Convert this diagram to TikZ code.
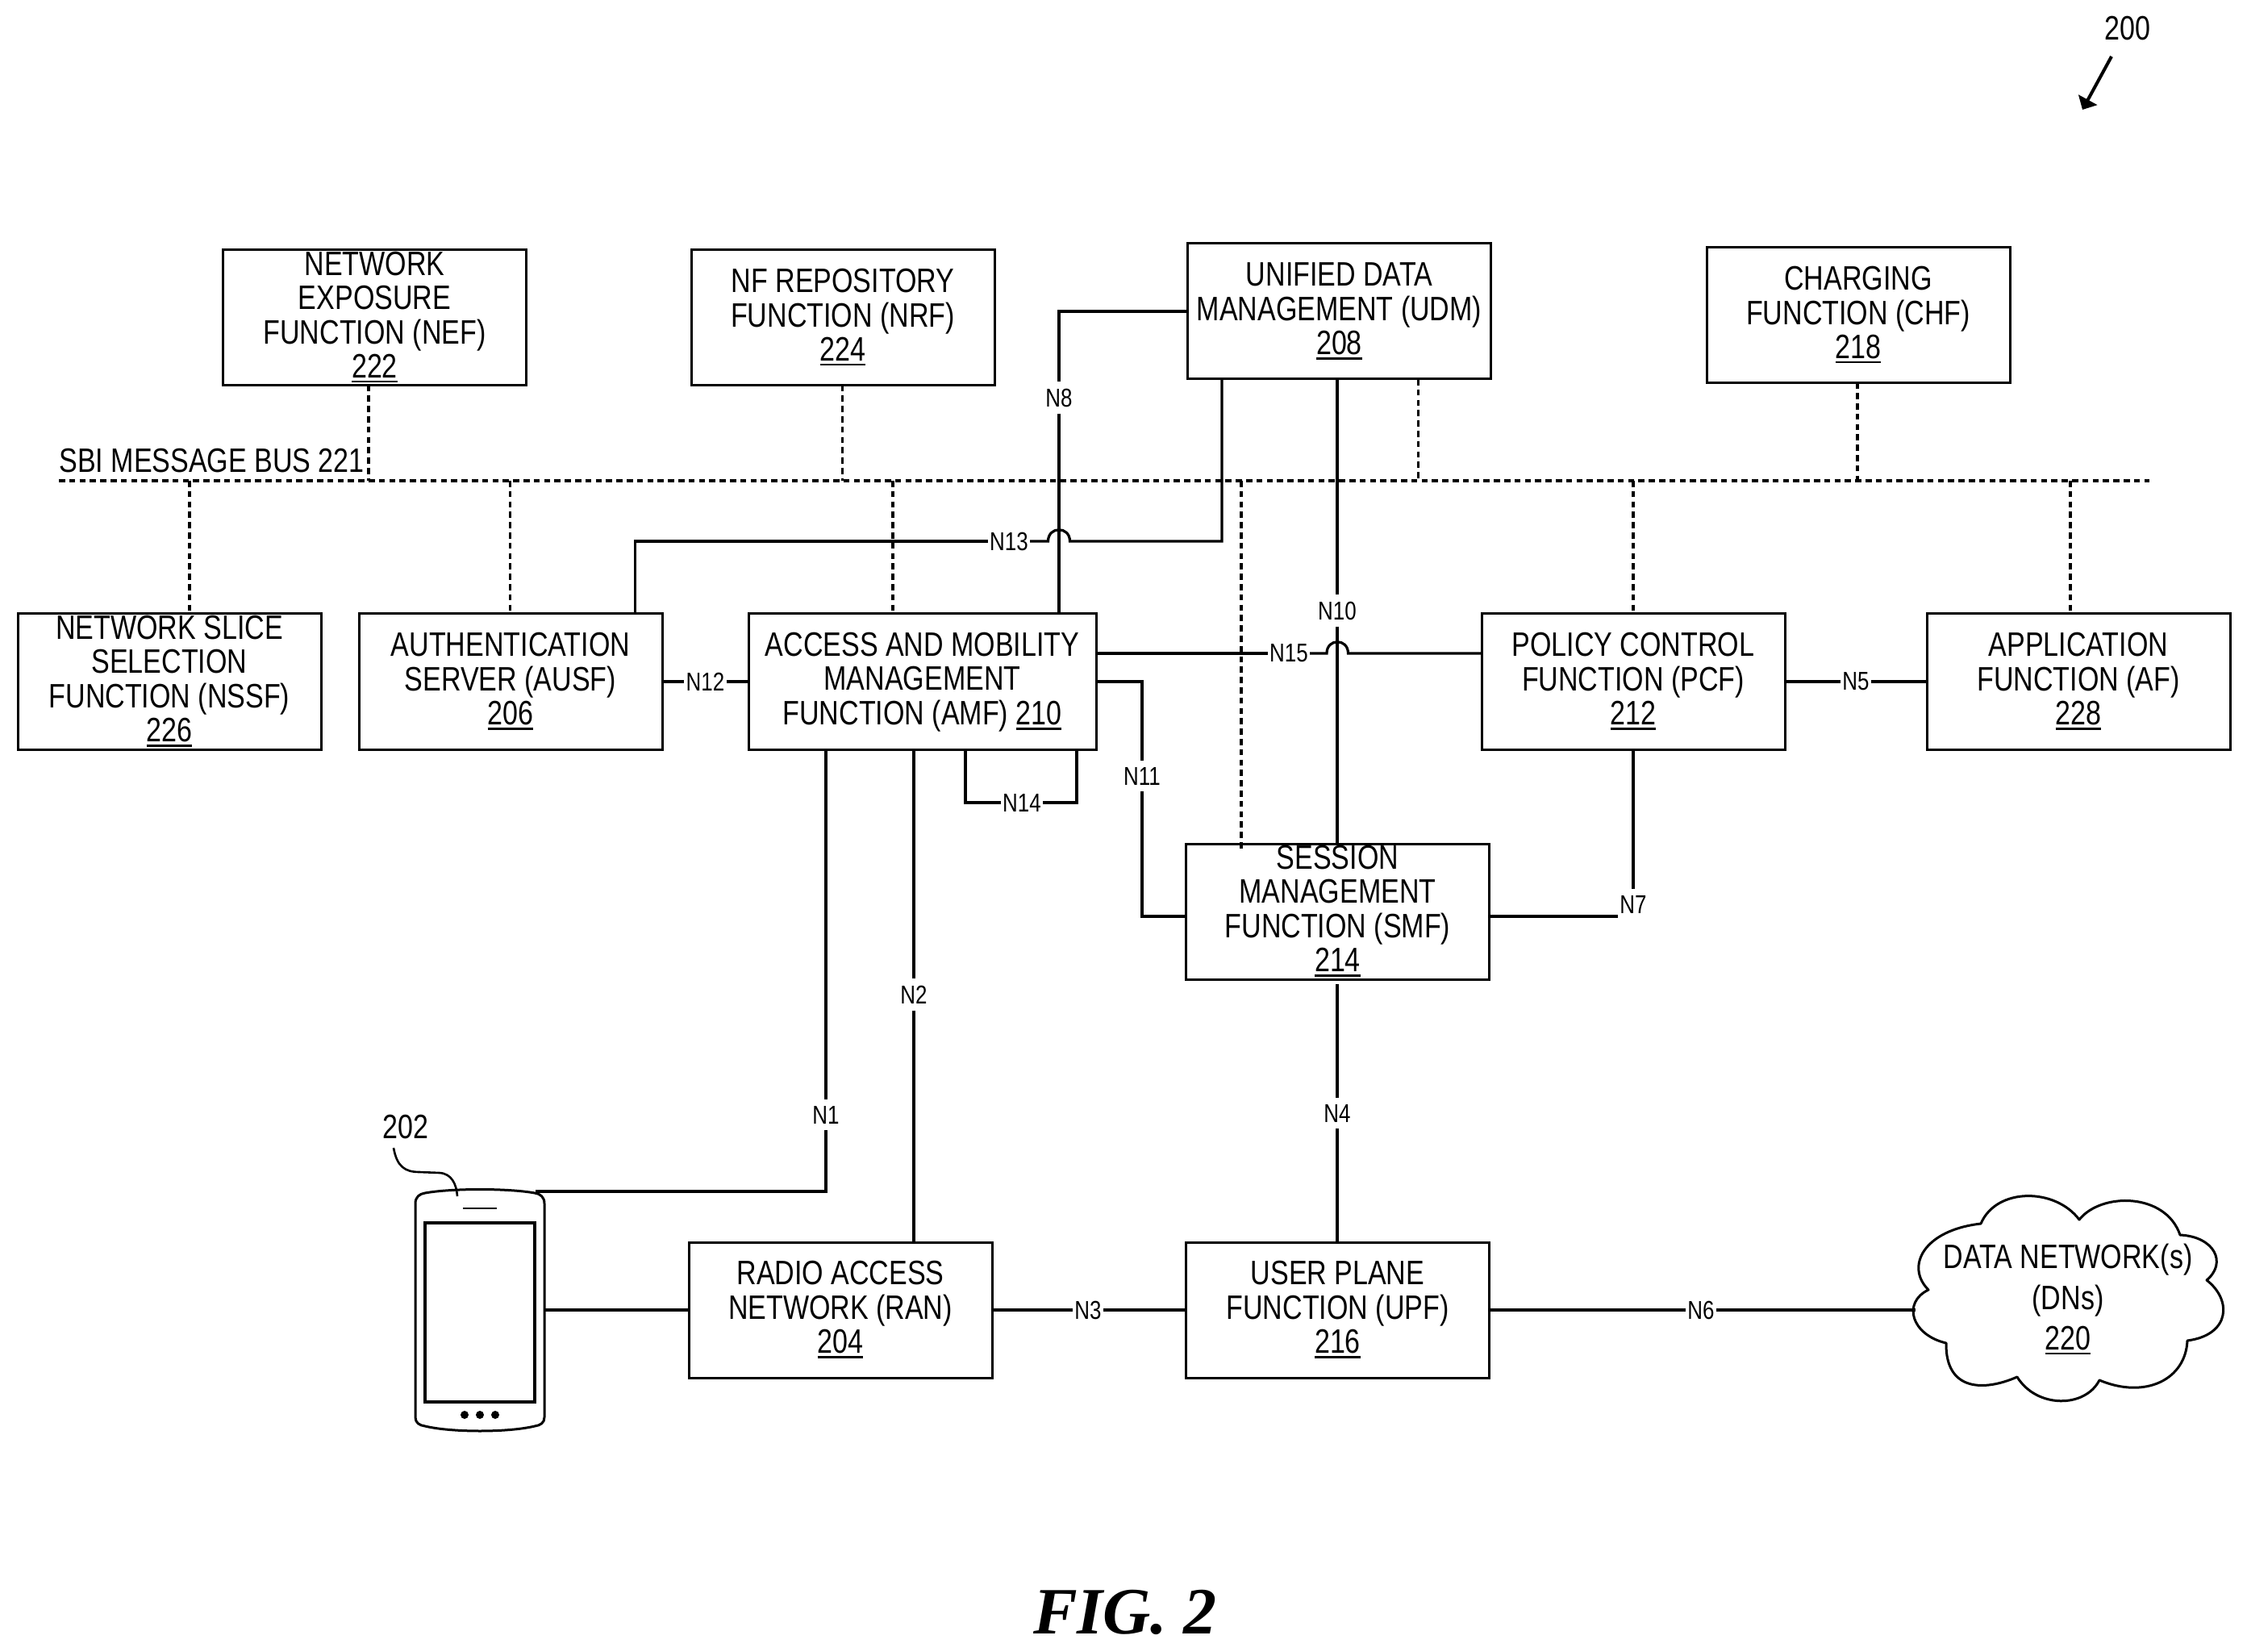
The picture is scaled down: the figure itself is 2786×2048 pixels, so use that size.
\documentclass[tikz,border=0pt]{standalone}
\usepackage{fontspec}
\setmainfont{Liberation Sans}[FakeStretch=0.81]
\newfontfamily\figfont{Liberation Serif}
\usetikzlibrary{arrows.meta}
\newcommand{\ulnum}[1]{\setbox0\hbox{#1}\rlap{\rule[-3pt]{\wd0}{1.1pt}}\box0}
\newcommand{\boxlines}[1]{\raisebox{-6.5pt}[0pt][0pt]{\makebox[0pt]{\begin{tabular}{@{}c@{}}#1\end{tabular}}}}
\tikzset{
  netbox/.style={draw,line width=1.5pt,minimum width=188pt,minimum height=84pt,inner sep=0pt,outer sep=0pt,
    font=\fontsize{21}{21}\selectfont},
  conn/.style={line width=1.6pt},
  sbi/.style={line width=1.6pt,dash pattern=on 3.8pt off 2.6pt},
  ifc/.style={fill=white,inner xsep=1pt,inner ysep=4pt,font=\fontsize{16}{17}\selectfont},
  plain/.style={inner sep=0pt,font=\fontsize{21}{21}\selectfont},
  outline/.style={line width=1.5pt,line join=round}
}
\begin{document}
\begin{tikzpicture}[x=0.5pt,y=-0.5pt]
\useasboundingbox (0,0) rectangle (2786,2048);

% boxes
\node[netbox] (nef) at (464.5,393.6) {\boxlines{NETWORK\\EXPOSURE\\FUNCTION (NEF)\\\ulnum{222}}};
\node[netbox] (nrf) at (1045,393.6) {\boxlines{NF REPOSITORY\\FUNCTION (NRF)\\\ulnum{224}}};
\node[netbox] (udm) at (1660.5,386) {\boxlines{UNIFIED DATA\\MANAGEMENT (UDM)\\\ulnum{208}}};
\node[netbox] (chf) at (2304,390.5) {\boxlines{CHARGING\\FUNCTION (CHF)\\\ulnum{218}}};
\node[netbox] (nssf) at (210,845) {\boxlines{NETWORK SLICE\\SELECTION\\FUNCTION (NSSF)\\\ulnum{226}}};
\node[netbox] (ausf) at (633,845) {\boxlines{AUTHENTICATION\\SERVER (AUSF)\\\ulnum{206}}};
\node[netbox,minimum width=215.5pt] (amf) at (1143.5,845) {\boxlines{ACCESS AND MOBILITY\\MANAGEMENT\\FUNCTION (AMF) \ulnum{210}}};
\node[netbox] (pcf) at (2025,845) {\boxlines{POLICY CONTROL\\FUNCTION (PCF)\\\ulnum{212}}};
\node[netbox] (af) at (2577,845) {\boxlines{APPLICATION\\FUNCTION (AF)\\\ulnum{228}}};
\node[netbox] (smf) at (1658.5,1130) {\boxlines{SESSION\\MANAGEMENT\\FUNCTION (SMF)\\\ulnum{214}}};
\node[netbox] (upf) at (1658.5,1624) {\boxlines{USER PLANE\\FUNCTION (UPF)\\\ulnum{216}}};
\node[netbox] (ran) at (1042,1624) {\boxlines{RADIO ACCESS\\NETWORK (RAN)\\\ulnum{204}}};

% SBI bus
\coordinate (busl) at (73,596);
\coordinate (busr) at (2665,596);
\draw[sbi] (busl) -- (busr);
\node[plain,anchor=base west] (sbilabel) at (73,586) {SBI MESSAGE BUS 221};
\draw[sbi] (457,0 |- nef.south) -- (457,0 |- busl);
\draw[sbi] (1044.5,0 |- nrf.south) -- (1044.5,0 |- busl);
\draw[sbi] (1758.5,0 |- udm.south) -- (1758.5,0 |- busl);
\draw[sbi] (2303,0 |- chf.south) -- (2303,0 |- busl);
\draw[sbi] (235,0 |- busl) -- (235,0 |- nssf.north);
\draw[sbi] (632.5,0 |- busl) -- (632.5,0 |- ausf.north);
\draw[sbi] (1107,0 |- busl) -- (1107,0 |- amf.north);
\draw[sbi] (2025,0 |- busl) -- (2025,0 |- pcf.north);
\draw[sbi] (2567,0 |- busl) -- (2567,0 |- af.north);
\draw[sbi] (1539,0 |- busl) -- (1539,1053);

% phone
\coordinate (uetop) at (664,1477);
\coordinate (ueside) at (675,1624);
\draw[outline] (515,1492) .. controls (515,1484) and (520,1480) .. (527,1479)
  .. controls (560,1473) and (630,1473) .. (663,1479)
  .. controls (670,1480) and (675,1484) .. (675,1492)
  -- (675,1757) .. controls (675,1764) and (670,1767) .. (663,1768)
  .. controls (630,1776) and (560,1776) .. (527,1768)
  .. controls (520,1767) and (515,1764) .. (515,1757) -- cycle;
\draw[line width=1.7pt] (527,1516) rectangle (663,1738);
\draw[line width=1.2pt] (574,1498) -- (616,1498);
\fill (576,1754) circle[radius=5] (595,1754) circle[radius=5] (614,1754) circle[radius=5];
\node[plain] (ue) at (503,1397) {202};
\draw[line width=1.3pt] (488,1423) .. controls (492,1446) and (502,1453) .. (520,1453)
  -- (545,1454) .. controls (560,1455) and (566,1468) .. (567,1483);

% top-right reference
\node[plain] (ref200) at (2638,35) {200};
\coordinate (ref200a) at (2618,70);
\coordinate (ref200b) at (2582,136);
\draw[line width=2pt,-{Triangle[length=7pt,width=13pt]}] (ref200a) -- (ref200b);

% cloud
\coordinate (dn) at (2375,1624);
\draw[outline,fill=white] (2391,1599) .. controls (2362,1570) and (2385,1525) .. (2456,1517)
  .. controls (2475,1472) and (2548,1472) .. (2578,1512)
  .. controls (2605,1478) and (2685,1478) .. (2703,1531)
  .. controls (2745,1533) and (2762,1565) .. (2736,1587)
  .. controls (2768,1612) and (2765,1655) .. (2712,1662)
  .. controls (2710,1710) and (2660,1735) .. (2603,1711)
  .. controls (2585,1746) and (2525,1746) .. (2501,1707)
  .. controls (2460,1725) and (2412,1725) .. (2413,1665)
  .. controls (2370,1655) and (2358,1615) .. (2391,1599) -- cycle;
\node[plain] (dnlabel) at (2564,1611) {\boxlines{DATA NETWORK(s)\\[4pt](DNs)\\[4pt]\ulnum{220}}};

% connectors
\node[ifc] (n1) at (1024,1382) {N1};
\draw[conn] (1024,0 |- amf.south) -- (n1.north);
\draw[conn] (n1.south) -- (n1.south |- uetop) -- (uetop);

\node[ifc] (n2) at (1133,1233) {N2};
\draw[conn] (1133,0 |- amf.south) -- (n2.north);
\draw[conn] (n2.south) -- (n2.south |- ran.north);

\node[ifc] (n3) at (1349,1624) {N3};
\draw[conn] (ran.east) -- (n3.west);
\draw[conn] (n3.east) -- (upf.west);

\coordinate (n4s) at (1658,1220);
\node[ifc] (n4) at (1658,1380) {N4};
\draw[conn] (n4s) -- (n4.north);
\draw[conn] (n4.south) -- (n4.south |- upf.north);

\node[ifc] (n5) at (2301,845) {N5};
\draw[conn] (pcf.east) -- (n5.west);
\draw[conn] (n5.east) -- (af.west);

\node[ifc] (n6) at (2109,1624) {N6};
\draw[conn] (upf.east) -- (n6.west);
\draw[conn] (n6.east) -- (dn);

\node[ifc] (n7) at (2025,1121) {N7};
\coordinate (smfh) at (2006,1136);
\draw[conn] (2025,0 |- pcf.south) -- (n7.north);
\draw[conn] (smf.east |- smfh) -- (smfh);

\node[ifc] (n8) at (1313,493) {N8};
\draw[conn] (udm.west) -- (n8.north |- udm.west) -- (n8.north);
\draw[conn] (n8.south) -- (n8.south |- amf.north);

\node[ifc] (n10) at (1658,757) {N10};
\draw[conn] (1658,0 |- udm.south) -- (n10.north);
\draw[conn] (n10.south) -- (n10.south |- smf.north);

\node[ifc] (n11) at (1416,962) {N11};
\draw[conn] (amf.east) -- (n11.north |- amf.east) -- (n11.north);
\draw[conn] (n11.south) -- (n11.south |- smfh) -- (smf.west |- smfh);

\node[ifc] (n12) at (874.5,845) {N12};
\draw[conn] (ausf.east) -- (n12.west);
\draw[conn] (n12.east) -- (amf.west);

\node[ifc] (n13) at (1251,671) {N13};
\draw[conn] (787.5,0 |- ausf.north) -- (787.5,671) -- (n13.west);
\draw[conn] (n13.east) -- (1299.5,671) .. controls (1299.5,652) and (1326.5,652) .. (1326.5,671)
  -- (1515,671) -- (1515,0 |- udm.south);

\node[ifc] (n14) at (1267,995) {N14};
\draw[conn] (1197,0 |- amf.south) -- (1197,995) -- (n14.west);
\draw[conn] (n14.east) -- (1335,995) -- (1335,0 |- amf.south);

\node[ifc] (n15) at (1598,810) {N15};
\draw[conn] (amf.east |- n15.west) -- (n15.west);
\draw[conn] (n15.east) -- (1645,810) .. controls (1645,791) and (1671.5,791) .. (1671.5,810)
  -- (pcf.west |- n15.east);

\draw[conn] (ueside) -- (ran.west);

% caption
\node[anchor=base,inner sep=0pt,font=\figfont\fontsize{41}{44}\selectfont\bfseries\itshape] (fig) at (1395,2025) {FIG. 2};
\end{tikzpicture}
\end{document}
